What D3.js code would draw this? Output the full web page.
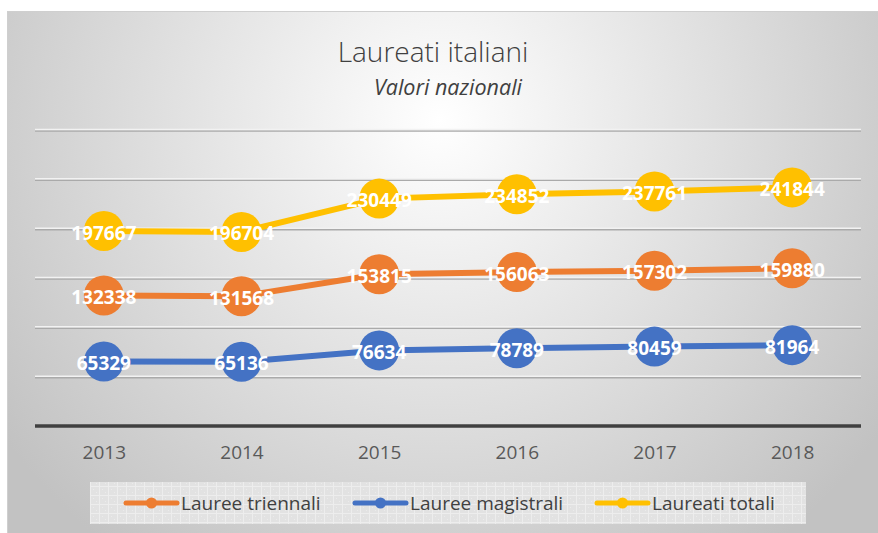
<!DOCTYPE html>
<html>
<head>
<meta charset="utf-8">
<script src="https://cdn.jsdelivr.net/npm/d3@7"></script>
<style>
  body { margin: 0; background: #fff; }
  svg { display: block; }
</style>
</head>
<body>
<div id="chart"></div>
<script>
const WIDTH = 878
const HEIGHT = 533

const years = ["2013", "2014", "2015", "2016", "2017", "2018"]
const triennali = [132338, 131568, 153815, 156063, 157302, 159880]
const magistrali = [65329, 65136, 76634, 78789, 80459, 81964]
const totali = [197667, 196704, 230449, 234852, 237761, 241844]
const yTicks = [0, 50000, 100000, 150000, 200000, 250000, 300000]

const series = [
    { name: "Lauree magistrali", values: magistrali, color: "#4472c4" },
    { name: "Lauree triennali", values: triennali, color: "#ed7d31" },
    { name: "Laureati totali", values: totali, color: "#ffc000" },
]
const legendOrder = ["Lauree triennali", "Lauree magistrali", "Laureati totali"]

const svg = d3.select("#chart").append("svg")
    .attr("width", WIDTH)
    .attr("height", HEIGHT)

const defs = svg.append("defs")

const grad = defs.append("radialGradient")
    .attr("id", "bg")
    .attr("gradientUnits", "userSpaceOnUse")
    .attr("cx", 440).attr("cy", 120).attr("r", 540)
grad.append("stop").attr("offset", "0%").attr("stop-color", "#ffffff")
grad.append("stop").attr("offset", "100%").attr("stop-color", "#c2c2c2")

const pat = defs.append("pattern")
    .attr("id", "legendPat")
    .attr("patternUnits", "userSpaceOnUse")
    .attr("width", 9).attr("height", 9)
pat.append("rect").attr("width", 9).attr("height", 9).attr("fill", "#e2e2e2")
pat.append("path").attr("d", "M0,0.5H9M0.5,0V9").attr("stroke", "#ededed").attr("stroke-width", 1)
pat.append("rect").attr("x", 3).attr("y", 3).attr("width", 1).attr("height", 1).attr("fill", "#ebebeb")
pat.append("rect").attr("x", 6).attr("y", 6).attr("width", 1).attr("height", 1).attr("fill", "#ebebeb")

// chart frame
svg.append("rect")
    .attr("x", 7.5).attr("y", 11.5)
    .attr("width", WIDTH).attr("height", HEIGHT)
    .attr("fill", "url(#bg)")
    .attr("stroke", "#cfcfcf")

svg.append("text")
    .attr("x", 433).attr("y", 62)
    .attr("text-anchor", "middle")
    .attr("font-family", "Open Sans, sans-serif")
    .attr("font-weight", 300)
    .attr("font-size", 28)
    .attr("fill", "#404040")
    .text("Laureati italiani")

svg.append("text")
    .attr("x", 448).attr("y", 95)
    .attr("text-anchor", "middle")
    .attr("font-family", "Open Sans, sans-serif")
    .attr("font-style", "italic")
    .attr("font-size", 21.5)
    .attr("fill", "#404040")
    .text("Valori nazionali")

const x = d3.scalePoint()
    .domain(years)
    .range([35, 861])
    .padding(0.5)

const y = d3.scaleLinear()
    .domain([0, 300000])
    .range([426, 130])

// gridlines
const grid = svg.append("g")
grid.selectAll(".g-dark")
    .data(yTicks.slice(1))
    .join("line")
    .attr("x1", 35).attr("x2", 861)
    .attr("y1", d => y(d) + 1).attr("y2", d => y(d) + 1)
    .attr("stroke", "#aaaaaa")
    .attr("stroke-width", 1.5)
grid.selectAll(".g-light")
    .data(yTicks.slice(1))
    .join("line")
    .attr("x1", 35).attr("x2", 861)
    .attr("y1", d => y(d) - 0.5).attr("y2", d => y(d) - 0.5)
    .attr("stroke", "#f2f2f2")
    .attr("stroke-width", 1.5)

// x axis
const xAxis = svg.append("g")
    .attr("transform", `translate(0,${y(0)})`)
    .call(d3.axisBottom(x).tickSize(0).tickPadding(20))
xAxis.select(".domain")
    .attr("d", "M35,0H861")
    .attr("stroke", "#404040")
    .attr("stroke-width", 3.5)
xAxis.selectAll("text")
    .attr("font-family", "Open Sans, sans-serif")
    .attr("font-size", 19)
    .attr("fill", "#595959")

const line = d3.line()
    .x((d, i) => x(years[i]))
    .y(d => y(d))

const sg = svg.append("g")
    .selectAll("g")
    .data(series)
    .join("g")

sg.append("path")
    .attr("d", d => line(d.values))
    .attr("fill", "none")
    .attr("stroke", d => d.color)
    .attr("stroke-width", 6)
    .attr("stroke-linejoin", "round")

sg.selectAll("circle")
    .data(d => d.values.map((v, i) => ({ v, i, color: d.color })))
    .join("circle")
    .attr("cx", d => x(years[d.i]))
    .attr("cy", d => y(d.v))
    .attr("r", 20)
    .attr("fill", d => d.color)

sg.selectAll("text")
    .data(d => d.values.map((v, i) => ({ v, i })))
    .join("text")
    .attr("x", d => x(years[d.i]))
    .attr("y", d => y(d.v))
    .attr("dy", "0.45em")
    .attr("text-anchor", "middle")
    .attr("font-family", "Open Sans, sans-serif")
    .attr("font-weight", 700)
    .attr("font-size", 19)
    .attr("fill", "#ffffff")
    .text(d => d.v)

// legend
svg.append("rect")
    .attr("x", 90).attr("y", 482)
    .attr("width", 716).attr("height", 42)
    .attr("fill", "url(#legendPat)")

const legendX = [126, 355, 597]
const legend = svg.append("g")
    .selectAll("g")
    .data(legendOrder.map(n => series.find(s => s.name === n)))
    .join("g")
    .attr("transform", (d, i) => `translate(${legendX[i]},503)`)

legend.append("line")
    .attr("x1", 0).attr("x2", 51)
    .attr("stroke", d => d.color)
    .attr("stroke-width", 5)
    .attr("stroke-linecap", "round")
legend.append("circle")
    .attr("cx", 25.5).attr("r", 5.5)
    .attr("fill", d => d.color)
legend.append("text")
    .attr("x", 55).attr("y", 7)
    .attr("font-family", "Open Sans, sans-serif")
    .attr("font-size", 19)
    .attr("fill", "#404040")
    .text(d => d.name)
</script>
</body>
</html>
